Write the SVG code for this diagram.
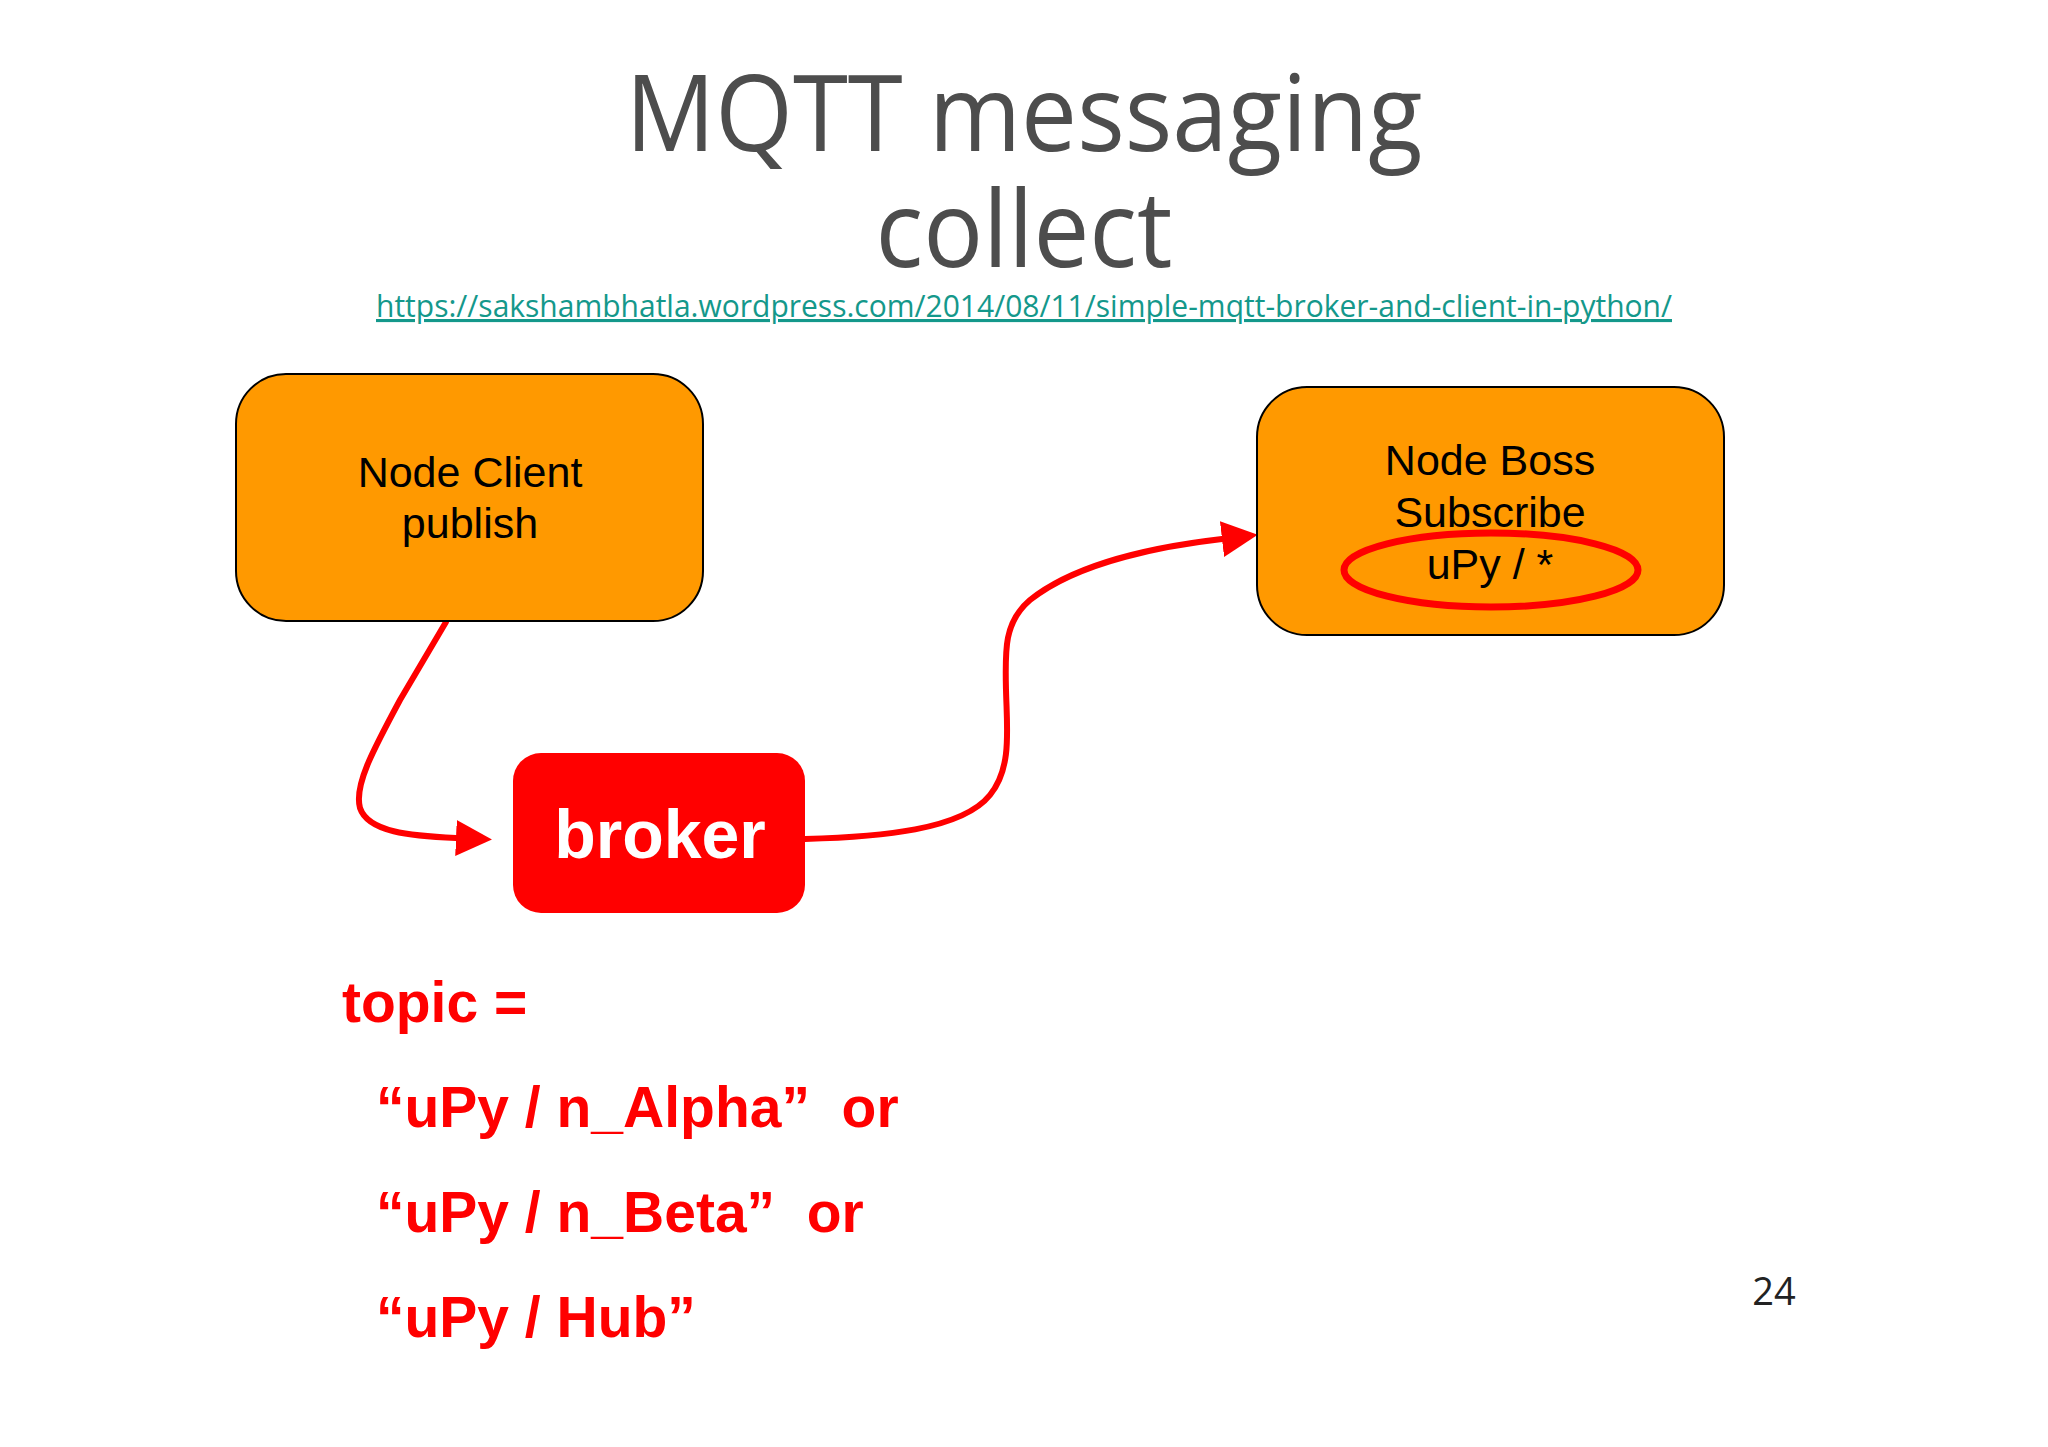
<svg xmlns="http://www.w3.org/2000/svg" width="2048" height="1447" viewBox="0 0 2048 1447">
  <defs>
    <marker id="arrow" markerUnits="userSpaceOnUse" markerWidth="38" markerHeight="38" refX="0" refY="18" orient="auto">
      <path d="M0,0 L36,18 L0,36 Z" fill="#ff0000"/>
    </marker>
    <style>
      .title { font-family: "Open Sans", "Noto Sans", sans-serif; fill: #4d4d4d; text-anchor: middle; }
      .url { font-family: "Open Sans", "Noto Sans", sans-serif; fill: #14988b; font-size: 31px; text-anchor: middle; text-decoration: underline; }
      .node { fill: #ff9900; stroke: #000000; stroke-width: 2; }
      .nodetext { font-family: "Liberation Sans", Arial, sans-serif; font-size: 43px; fill: #000000; text-anchor: middle; }
      .conn { fill: none; stroke: #ff0000; stroke-width: 6; stroke-linecap: round; }
      .topic { font-family: "Liberation Sans", Arial, sans-serif; font-weight: bold; font-size: 57px; fill: #ff0000; white-space: pre; }
    </style>
  </defs>
  <rect x="0" y="0" width="2048" height="1447" fill="#ffffff"/>

  <g id="title">
    <text class="title" x="1024" y="151" font-size="106" textLength="797" lengthAdjust="spacingAndGlyphs">MQTT messaging</text>
    <text class="title" x="1024" y="267" font-size="106" textLength="297" lengthAdjust="spacingAndGlyphs">collect</text>
    <text class="url" x="1024" y="317" textLength="1296" lengthAdjust="spacingAndGlyphs">https://sakshambhatla.wordpress.com/2014/08/11/simple-mqtt-broker-and-client-in-python/</text>
  </g>

  <g id="connectors">
    <path class="conn" d="M446,622 L400,700 C372,752 354,786 360,808 C368,832 410,836 456,838" marker-end="url(#arrow)"/>
    <path class="conn" d="M805,839 C880,837 962,830 990,795 C1012,768 1007,730 1006,690 C1005,650 1004,622 1030,600 C1080,560 1170,545 1222,539" marker-end="url(#arrow)"/>
  </g>

  <g id="node-client">
    <rect class="node" x="236" y="374" width="467" height="247" rx="50" ry="50"/>
    <text class="nodetext" x="470" y="487">Node Client</text>
    <text class="nodetext" x="470" y="538">publish</text>
  </g>

  <g id="node-boss">
    <rect class="node" x="1257" y="387" width="467" height="248" rx="50" ry="50"/>
    <text class="nodetext" x="1490" y="475">Node Boss</text>
    <text class="nodetext" x="1490" y="527">Subscribe</text>
    <text class="nodetext" x="1490" y="579">uPy / *</text>
    <ellipse cx="1491" cy="570" rx="147" ry="37" fill="none" stroke="#ff0000" stroke-width="7"/>
  </g>

  <g id="broker">
    <rect x="513" y="753" width="292" height="160" rx="28" ry="28" fill="#ff0000"/>
    <text x="660" y="858" font-family="Liberation Sans, Arial, sans-serif" font-weight="bold" font-size="68" fill="#ffffff" text-anchor="middle">broker</text>
  </g>

  <g id="topic-text">
    <text class="topic" x="342" y="1022">topic =</text>
    <text class="topic" x="376" y="1127">“uPy / n_Alpha”  or</text>
    <text class="topic" x="376" y="1232">“uPy / n_Beta”  or</text>
    <text class="topic" x="376" y="1337">“uPy / Hub”</text>
  </g>

  <g id="page-number">
    <text x="1774" y="1305" font-family="Open Sans, Noto Sans, sans-serif" font-size="38" fill="#222222" text-anchor="middle">24</text>
  </g>
</svg>
